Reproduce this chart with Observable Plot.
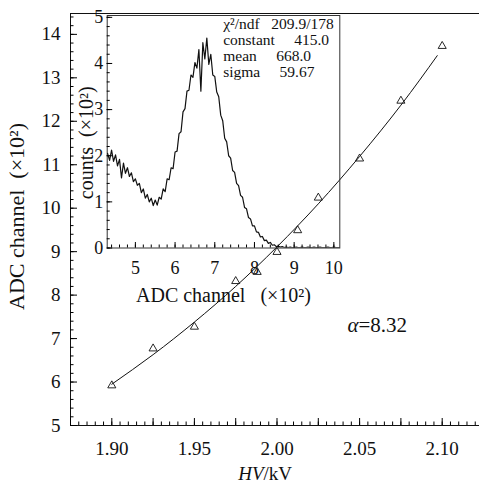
<!DOCTYPE html>
<html><head><meta charset="utf-8">
<script src="https://cdn.jsdelivr.net/npm/d3@7"></script>
<script src="https://cdn.jsdelivr.net/npm/@observablehq/plot@0.6"></script>
<style>
html,body{margin:0;padding:0;background:#fff;}
#wrap{position:relative;width:479px;height:483px;overflow:hidden;background:#fff;}
#wrap svg{position:absolute;left:0;top:0;}
</style></head><body><div id="wrap"></div>
<script>
// ---- main chart data: gain vs HV ----
const hv  = [1.90, 1.925, 1.95, 1.975, 1.988, 2.00, 2.0125, 2.025, 2.05, 2.075, 2.10];
const adc = [5.92, 6.77, 7.27, 8.32, 8.53, 8.99, 9.49, 10.24, 11.14, 12.47, 13.73];
// fitted curve
const fitHv  = [1.90, 1.925, 1.95, 1.975, 2.00, 2.025, 2.05, 2.075, 2.097];
const fitAdc = [5.95, 6.63, 7.38, 8.20, 9.11, 10.10, 11.19, 12.37, 13.51];
const alphaName = "α";
const alphaValue = "=8.32";

// ---- inset histogram (ADC channel ×10², counts ×10²) ----
const histChannel = d3.range(430, 1016, 5).map(c => c / 100);
const histCounts = [
  2.05, 1.90, 2.12, 1.88, 2.02, 1.78, 1.92, 1.52, 1.84, 1.62,
  1.74, 1.55, 1.63, 1.44, 1.50, 1.36, 1.40, 1.20, 1.28, 1.08,
  1.16, 1.00, 1.08, 0.92, 1.04, 0.93, 1.10, 1.06, 1.28, 1.22,
  1.50, 1.48, 1.74, 1.72, 2.08, 2.10, 2.48, 2.52, 2.95, 3.02,
  3.40, 3.42, 3.75, 3.70, 4.02, 3.90, 4.30, 3.40, 4.45, 4.10,
  4.55, 3.98, 4.20, 3.75, 3.72, 3.38, 3.28, 2.88, 2.76, 2.38,
  2.30, 2.00, 1.95, 1.68, 1.64, 1.40, 1.35, 1.14, 1.10, 0.88,
  0.85, 0.66, 0.63, 0.48, 0.48, 0.35, 0.34, 0.24, 0.25, 0.16,
  0.17, 0.10, 0.12, 0.06, 0.07, 0.03, 0.04, 0.02, 0.03, 0.01,
  0.02, 0.01, 0.02, 0.01, 0.01, 0.02, 0.01, 0.01, 0.02, 0.01,
  0.01, 0.02, 0.01, 0.01, 0.02, 0.01, 0.01, 0.02, 0.01, 0.01,
  0.01, 0.02, 0.01, 0.01, 0.02, 0.01, 0.01, 0.01
];
const statLines = [
  "χ²/ndf\u00a0\u00a0\u00a0209.9/178",
  "constant\u00a0\u00a0\u00a0\u00a0\u00a0415.0",
  "mean\u00a0\u00a0\u00a0\u00a0\u00a0668.0",
  "sigma\u00a0\u00a0\u00a0\u00a0\u00a059.67"
];

// ---- tick labels ----
const mainXLabels = [1.90, 1.95, 2.00, 2.05, 2.10];
const mainYLabels = [5, 6, 7, 8, 9, 10, 11, 12, 13, 14];
const insetXLabels = [5, 6, 7, 8, 9, 10];
const insetYLabels = [0, 1, 2, 3, 4, 5];
const mainXTitleA = "HV", mainXTitleB = "/kV";
const mainYTitle = "ADC channel\u00a0\u00a0(×10²)";
const insetXTitle = "ADC channel\u00a0\u00a0\u00a0(×10²)";
const insetYTitle = "counts\u00a0\u00a0(×10²)";

const points = hv.map((h, i) => ({h, a: adc[i]}));
const fit = fitHv.map((h, i) => ({h, a: fitAdc[i]}));
const hist = histChannel.slice(0, histCounts.length).map((c, i) => ({c, n: histCounts[i]}));

const W = 479, H = 483;
const font = "'Liberation Serif','Times New Roman',serif";
const ink = "#111";

const mainXMinor = d3.range(0, 51).map(i => 1.875 + i * 0.005);
const mainXMajor = d3.range(0, 11).map(i => 1.875 + i * 0.025);
const mainYMinor = d3.range(0, 48).map(i => 5 + i * 0.2);
const insetXMinor = d3.range(0, 29).map(i => 4.4 + i * 0.2);
const insetYMinor = d3.range(0, 26).map(i => i * 0.2);

const mT = 13, mB = 425, mL = 70;
const mxDom = [1.875, 2.125], mxRng = [mL, 483];
const myDom = [5, 14.48], myRng = [mB, mT];
const iL = 106.7, iR = 339.3, iT = 15, iB = 247.5;
const ixDom = [4.29, 10.15], ixRng = [iL, iR];
const iyDom = [0, 5.04], iyRng = [iB, iT];

const mainLayout = {
  width: W, height: H,
  marginLeft: mL, marginRight: 0, marginTop: mT, marginBottom: H - mB,
  x: {domain: mxDom, range: mxRng},
  y: {domain: myDom, range: myRng}
};
const insetLayout = {
  width: W, height: H,
  marginLeft: iL, marginRight: W - iR, marginTop: iT, marginBottom: H - iB,
  x: {domain: ixDom, range: ixRng},
  y: {domain: iyDom, range: iyRng}
};

// tick-only overlay plots (inward ticks)
function tickPlot(layout, xMinor, xMajor, yMinor, yMajor, minorLen, majorLen) {
  const fh = (H - layout.marginBottom) - layout.marginTop;
  const fw = (W - layout.marginRight) - layout.marginLeft;
  return Plot.plot({
    ...layout,
    style: {background: "transparent"},
    marks: [
      Plot.tickX(xMinor, {x: d => d, insetTop: fh - minorLen, stroke: "black"}),
      Plot.tickX(xMajor, {x: d => d, insetTop: fh - majorLen, stroke: "black"}),
      Plot.tickY(yMinor, {y: d => d, insetRight: fw - minorLen, stroke: "black"}),
      Plot.tickY(yMajor, {y: d => d, insetRight: fw - majorLen, stroke: "black"}),
      Plot.axisX([], {tickSize: 0, label: null}),
      Plot.axisY([], {tickSize: 0, label: null})
    ]
  });
}

const main = Plot.plot({
  ...mainLayout,
  style: {fontFamily: font, background: "transparent", color: ink},
  marks: [
    Plot.ruleY([myDom[1]], {stroke: ink, strokeWidth: 1}),
    Plot.ruleY([myDom[0]], {stroke: ink, strokeWidth: 1}),
    Plot.ruleX([mxDom[0]], {stroke: ink, strokeWidth: 1}),
    Plot.axisX(mainXLabels, {anchor: "bottom", tickSize: 0, tickPadding: 16, tickFormat: d3.format(".2f"), label: null, fontSize: 19, fill: ink}),
    Plot.axisY(mainYLabels, {anchor: "left", tickSize: 0, tickPadding: 10, label: null, fontSize: 19, fill: ink}),
    Plot.line(fit, {x: "h", y: "a", curve: "natural", stroke: ink, strokeWidth: 1}),
    Plot.dot(points, {x: "h", y: "a", symbol: "triangle", r: 3, stroke: ink, fill: "none", strokeWidth: 0.9}),
    Plot.text([mainYTitle], {text: d => d, frameAnchor: "left", dx: -54, dy: -3, rotate: -90, textAnchor: "middle", lineAnchor: "middle", fontSize: 22, fill: ink}),
    Plot.text([mainXTitleA], {text: d => d, frameAnchor: "bottom", dx: -11.5, dy: 48, textAnchor: "end", lineAnchor: "middle", fontStyle: "italic", fontSize: 19, fill: ink}),
    Plot.text([mainXTitleB], {text: d => d, frameAnchor: "bottom", dx: -11.5, dy: 48, textAnchor: "start", lineAnchor: "middle", fontSize: 19, fill: ink}),
    Plot.text([alphaName], {text: d => d, frameAnchor: "top-left", dx: 288, dy: 312, textAnchor: "end", lineAnchor: "middle", fontStyle: "italic", fontSize: 21, fill: ink}),
    Plot.text([alphaValue], {text: d => d, frameAnchor: "top-left", dx: 288, dy: 312, textAnchor: "start", lineAnchor: "middle", fontSize: 21, fill: ink})
  ]
});

const inset = Plot.plot({
  ...insetLayout,
  style: {fontFamily: font, background: "transparent", color: ink},
  marks: [
    Plot.frame({stroke: "#333", strokeWidth: 1}),
    Plot.axisX(insetXLabels, {anchor: "bottom", tickSize: 0, tickPadding: 13, label: null, fontSize: 18, fill: ink}),
    Plot.axisY(insetYLabels, {anchor: "left", tickSize: 0, tickPadding: 4, label: null, fontSize: 18, fill: ink}),
    Plot.line(hist, {x: "c", y: "n", curve: "linear", stroke: ink, strokeWidth: 1.2, clip: true}),
    ...statLines.map((s, i) => Plot.text([s], {text: d => d, frameAnchor: "top-left", dx: 116, dy: 9 + 16 * i, textAnchor: "start", lineAnchor: "middle", fontSize: 15.5, fill: ink})),
    Plot.text([insetXTitle], {text: d => d, frameAnchor: "bottom", dy: 47.5, textAnchor: "middle", lineAnchor: "middle", fontSize: 20, fill: ink}),
    Plot.text([insetYTitle], {text: d => d, frameAnchor: "left", dx: -20.7, dy: 11, rotate: -90, textAnchor: "middle", lineAnchor: "middle", fontSize: 20, fill: ink})
  ]
});

const mainTicks = tickPlot(mainLayout, mainXMinor, mainXMajor, mainYMinor, mainYLabels, 3.5, 7);
const insetTicks = tickPlot(insetLayout, insetXMinor, insetXLabels, insetYMinor, insetYLabels, 3, 5.5);

const wrap = document.getElementById("wrap");
wrap.appendChild(main);
wrap.appendChild(mainTicks);
wrap.appendChild(inset);
wrap.appendChild(insetTicks);
</script>
</body></html>
